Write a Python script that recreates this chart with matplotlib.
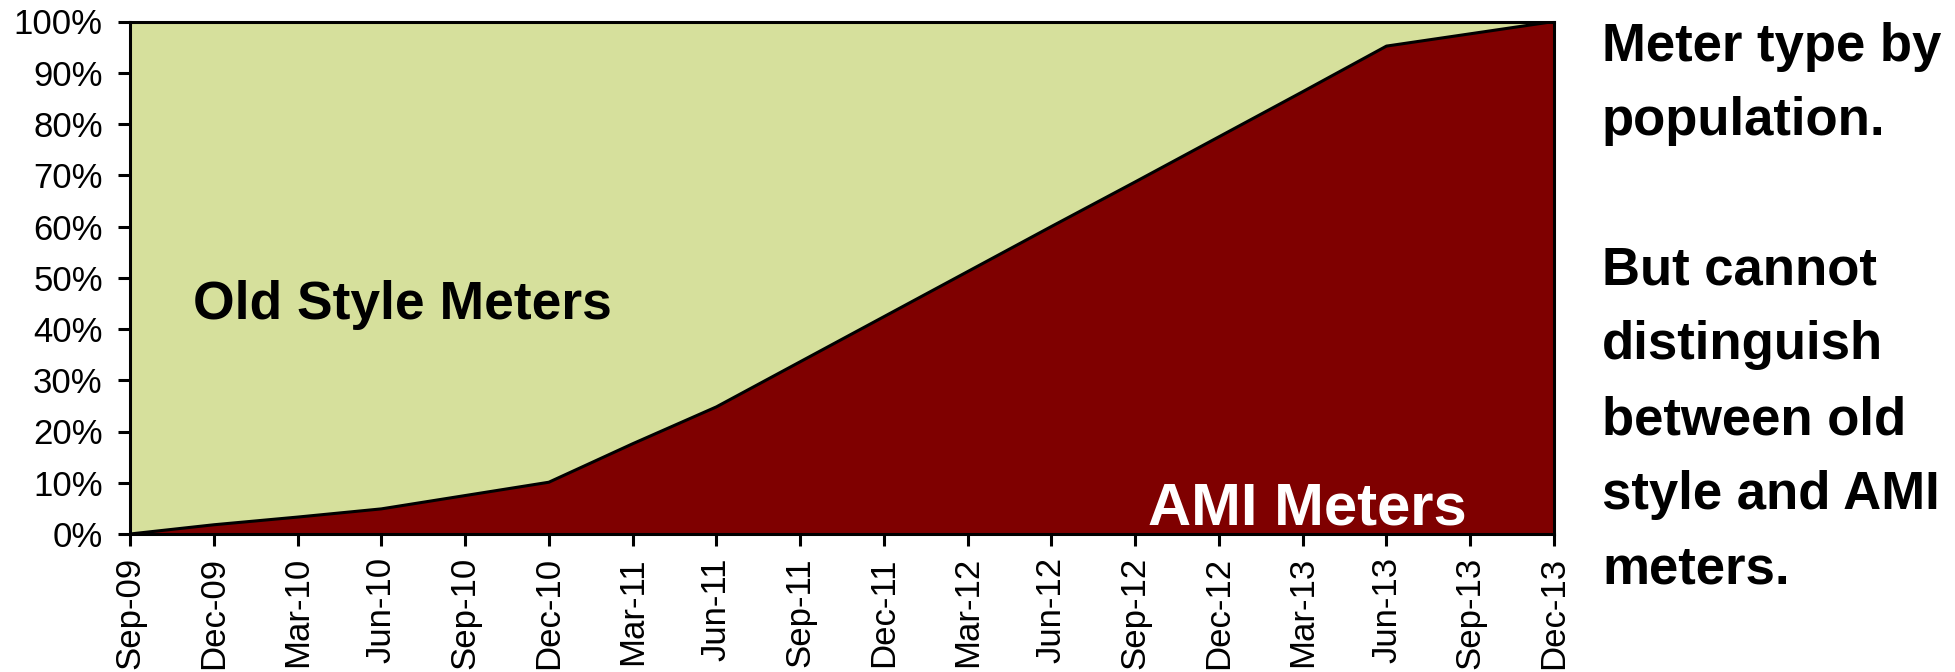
import matplotlib
matplotlib.use("Agg")
import matplotlib.pyplot as plt
import numpy as np

plt.rcParams['font.family'] = ['Liberation Sans', 'DejaVu Sans']

quarters = ["Sep-09", "Dec-09", "Mar-10", "Jun-10", "Sep-10", "Dec-10",
            "Mar-11", "Jun-11", "Sep-11", "Dec-11", "Mar-12", "Jun-12",
            "Sep-12", "Dec-12", "Mar-13", "Jun-13", "Sep-13", "Dec-13"]
ami_pct = [0.0, 1.8, 3.3, 4.9, 7.5, 10.1, 17.6, 24.8, 33.6, 42.4, 51.2,
           60.0, 68.7, 77.5, 86.3, 95.2, 97.6, 100.0]
y_ticks = [0, 10, 20, 30, 40, 50, 60, 70, 80, 90, 100]
side_lines = ["Meter type by", "population.", "", "But cannot", "distinguish",
              "between old", "style and AMI", "meters."]

green = "#D6E09C"
red = "#7F0000"

fig = plt.figure(figsize=(19.56, 6.72), dpi=100)
ax = fig.add_axes([130/1956, 1 - 534/672, (1554-130)/1956, (534-21.5)/672])

x = np.arange(len(quarters))
ami = np.array(ami_pct)
ax.fill_between(x, ami, 100, color=green, linewidth=0)
ax.fill_between(x, 0, ami, color=red, linewidth=0)
ax.plot(x, ami, color="black", linewidth=2.2)

ax.set_xlim(0, len(quarters) - 1)
ax.set_ylim(0, 100)
ax.set_xticks(x)
ax.set_xticklabels(quarters, rotation=90, fontsize=25)
ax.set_yticks(y_ticks)
ax.set_yticklabels([f"{v}%" for v in y_ticks], fontsize=25)
ax.tick_params(axis='both', direction='out', length=8.6, width=2.2)
ax.tick_params(axis='x', pad=8)
ax.tick_params(axis='y', pad=11)
for s in ax.spines.values():
    s.set_linewidth(2.2)
    s.set_color("black")

ax.text(0.75, 42, "Old Style Meters", fontsize=38.4, fontweight='bold',
        color="black", va='baseline', ha='left')
ax.text(12.15, 1.9, "AMI Meters", fontsize=43, fontweight='bold',
        color="white", va='baseline', ha='left')

y0 = 60.7
step = 74.7
for i, line in enumerate(side_lines):
    if line:
        fig.text(1602/1956, 1 - (y0 + i*step)/672, line, fontsize=38,
                 fontweight='bold', va='baseline', ha='left')

fig.savefig("out.png", dpi=100)
